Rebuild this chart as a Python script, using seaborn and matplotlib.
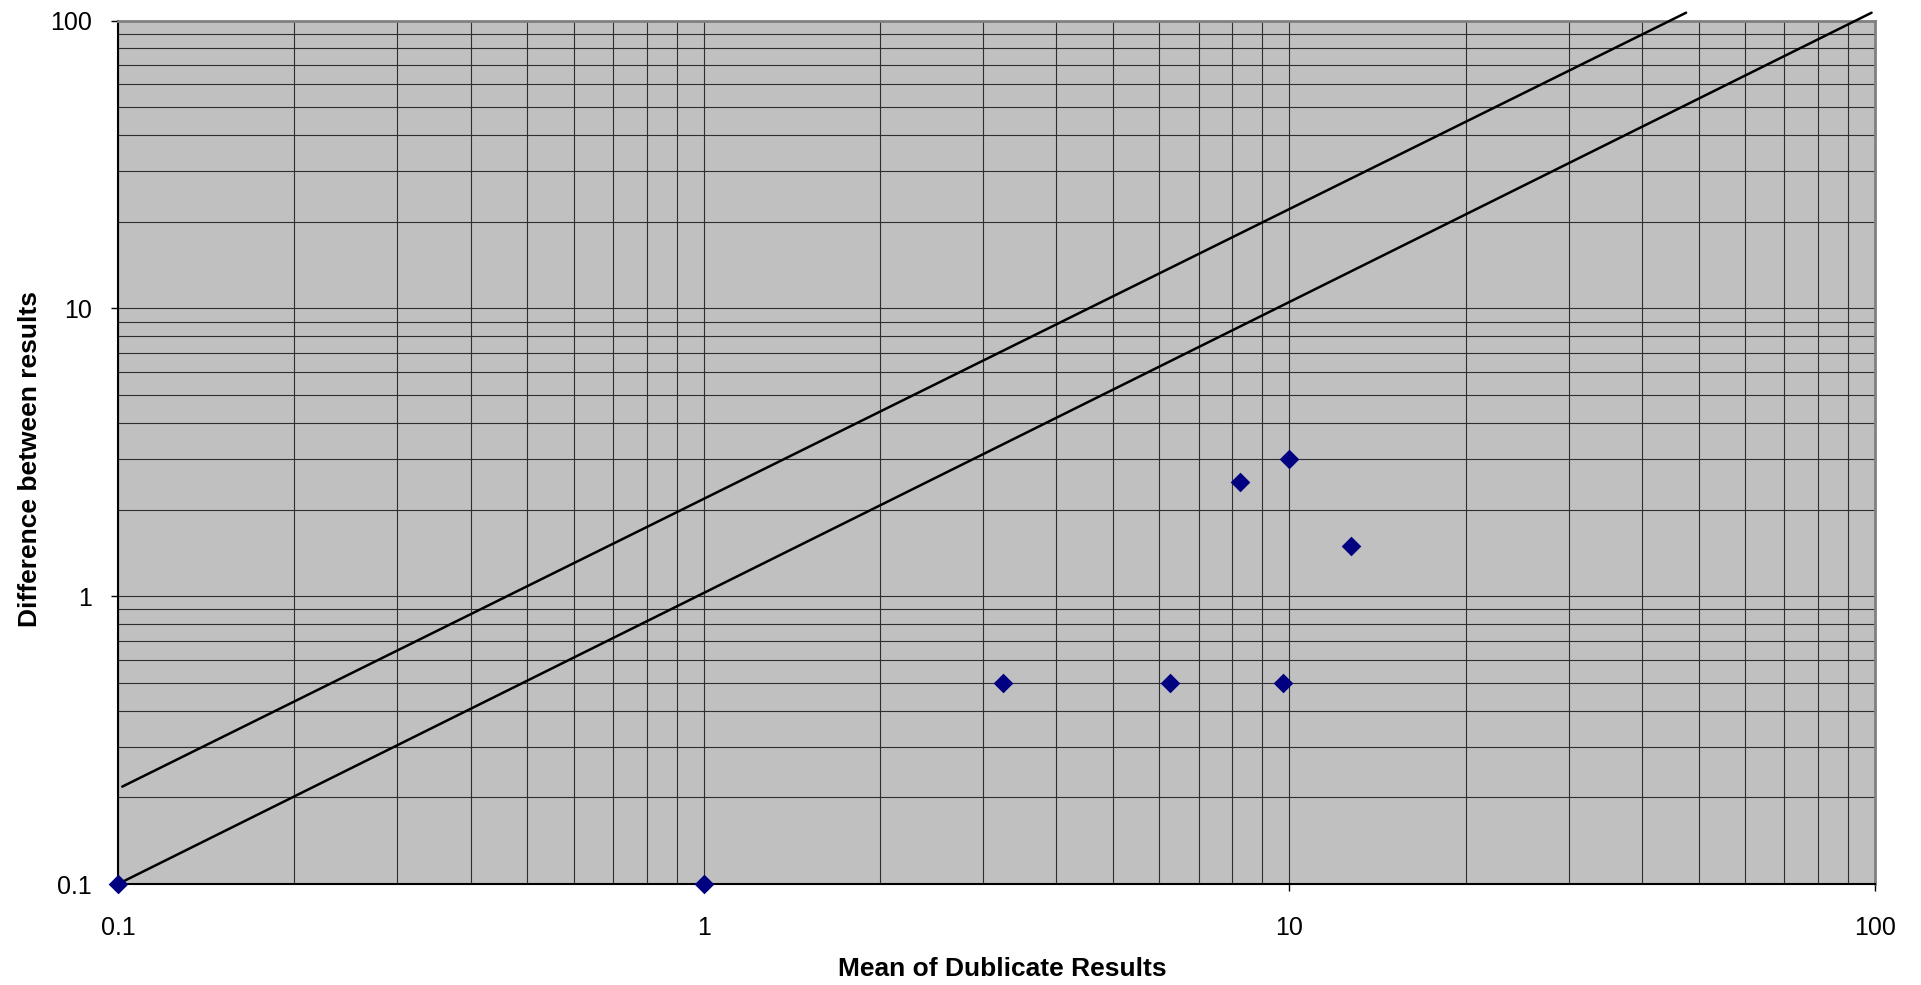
import numpy as np
import matplotlib
matplotlib.use("Agg")
import matplotlib.pyplot as plt
import seaborn as sns
from matplotlib.ticker import FixedLocator, FixedFormatter, LogLocator, NullFormatter

# Duplicate analyses: mean of each pair vs. absolute difference
mean_results = [0.1, 1.0, 3.25, 6.25, 9.75, 8.25, 10.0, 12.75]
differences = [0.1, 0.1, 0.5, 0.5, 0.5, 2.5, 3.0, 1.5]

# Acceptance limit lines (end points)
lower_limit_x = [0.1, 98.7]
lower_limit_y = [0.1, 106.5]
upper_limit_x = [0.1017, 47.6]
upper_limit_y = [0.218, 106.5]

tick_values = [0.1, 1, 10, 100]
tick_labels = ["0.1", "1", "10", "100"]

sns.set_style("ticks")
plt.rcParams["font.family"] = ["Liberation Sans", "DejaVu Sans"]
plt.rcParams["text.color"] = "black"
plt.rcParams["axes.labelcolor"] = "black"

fig = plt.figure(figsize=(19.21, 9.85), dpi=100)
ax = fig.add_axes([0.0614, 0.1025, 0.9146, 0.8766])
ax.set_facecolor("#c0c0c0")
ax.set_xscale("log")
ax.set_yscale("log")

sns.lineplot(x=lower_limit_x, y=lower_limit_y, ax=ax, color="black",
             linewidth=1.8, clip_on=False, zorder=3)
sns.lineplot(x=upper_limit_x, y=upper_limit_y, ax=ax, color="black",
             linewidth=1.8, clip_on=False, zorder=3)
sns.scatterplot(x=mean_results, y=differences, ax=ax, marker="D", s=100,
                color="#000080", linewidth=0, clip_on=False, zorder=5)

ax.set_xlim(0.1, 100)
ax.set_ylim(0.1, 100)

for axis in (ax.xaxis, ax.yaxis):
    axis.set_major_locator(FixedLocator(tick_values))
    axis.set_major_formatter(FixedFormatter(tick_labels))
    axis.set_minor_locator(LogLocator(base=10, subs=np.arange(2, 10)))
    axis.set_minor_formatter(NullFormatter())

ax.set_axisbelow(True)
ax.grid(True, which="both", color="#2e2e2e", linewidth=0.8)

ax.tick_params(which="major", direction="out", length=5, width=1,
               color="black", labelsize=18, labelcolor="black")
ax.tick_params(which="minor", length=0)
ax.tick_params(axis="x", pad=18)
ax.tick_params(axis="y", pad=13.7)

for side in ("left", "bottom"):
    ax.spines[side].set_color("black")
    ax.spines[side].set_linewidth(1.5)
for side in ("top", "right"):
    ax.spines[side].set_color("#808080")
    ax.spines[side].set_linewidth(2)

ax.set_xlabel("Mean of Dublicate Results", fontsize=19, fontweight="bold",
              color="black")
ax.set_ylabel("Difference between results", fontsize=19, fontweight="bold",
              color="black")
ax.xaxis.set_label_coords(0.5035, -0.0845)
ax.yaxis.set_label_coords(-0.0433, 0.4925)

fig.savefig("out.png", dpi=100)
